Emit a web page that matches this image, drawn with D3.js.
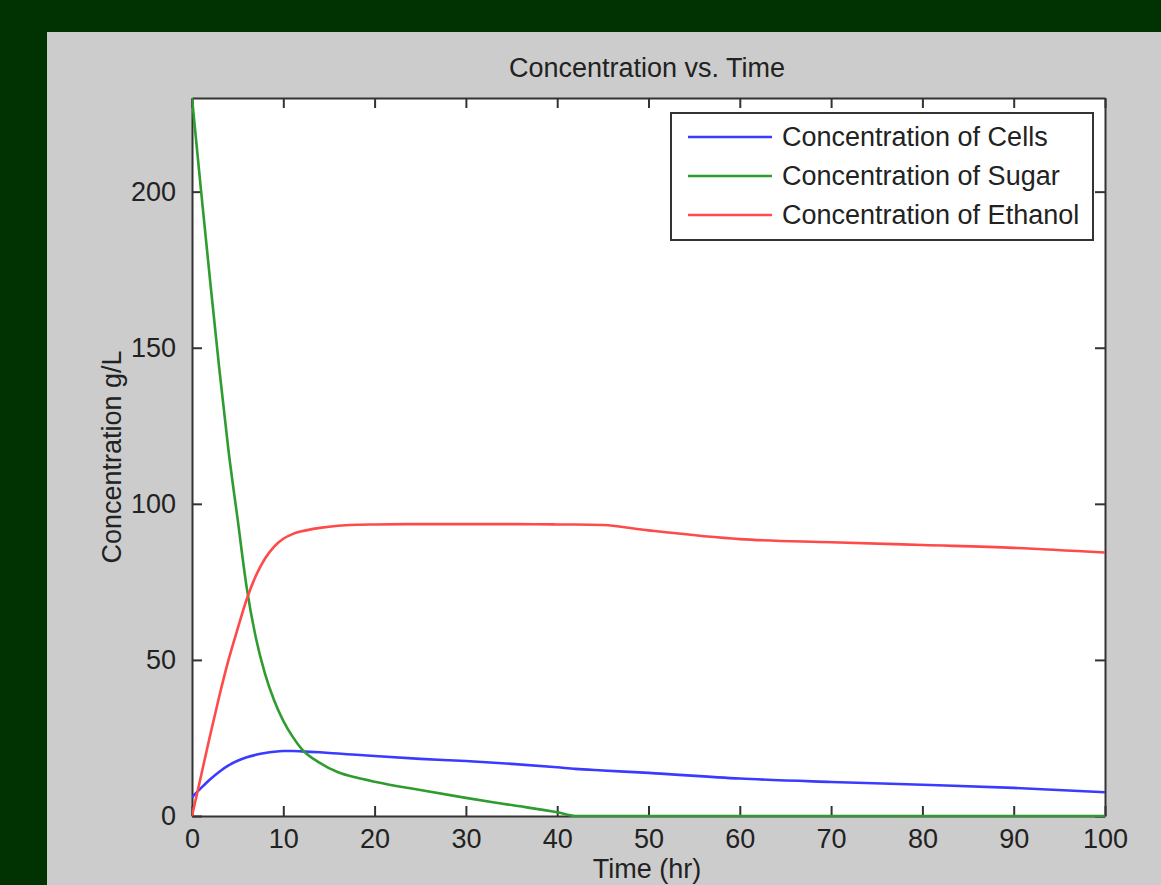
<!DOCTYPE html>
<html>
<head>
<meta charset="utf-8">
<script src="https://cdn.jsdelivr.net/npm/d3@7.9.0/dist/d3.min.js"></script>
<style>
  html, body { margin: 0; padding: 0; background: #013201; }
  svg { display: block; }
  text { font-family: "Liberation Sans", Arial, sans-serif; fill: #222; }
</style>
</head>
<body>
<svg id="chart" width="1161" height="885"></svg>
<script>
// values
const time    = [0, 1, 2, 3, 4, 5, 6, 7, 8, 9, 10, 11, 12, 14, 16, 18, 20, 25, 30, 35, 40, 42, 45, 50, 60, 70, 80, 90, 100];
const cells   = [6, 9, 11.8, 14.2, 16.2, 17.7, 18.8, 19.6, 20.2, 20.6, 20.8, 20.8, 20.7, 20.4, 20, 19.6, 19.2, 18.3, 17.6, 16.7, 15.6, 15.1, 14.6, 13.8, 12, 10.9, 10, 9, 7.6];
const sugar   = [230, 200, 171, 143, 117, 95, 73, 57, 45.5, 37, 30.5, 25.5, 21.5, 17, 14, 12.3, 11, 8.3, 5.8, 3.5, 1.2, 0, 0, 0, 0, 0, 0, 0, 0];
const ethanol = [0, 13, 26, 38.5, 50, 60, 69.5, 77, 82.5, 86.3, 88.8, 90.3, 91.2, 92.3, 93, 93.3, 93.4, 93.5, 93.5, 93.5, 93.4, 93.4, 93.2, 91.5, 88.7, 87.7, 86.8, 85.9, 84.4];

const seriesNames = ["Concentration of Cells", "Concentration of Sugar", "Concentration of Ethanol"];
const seriesColors = ["#3b3bff", "#2f9c2f", "#ff4a4a"];
const xTicks = [0, 10, 20, 30, 40, 50, 60, 70, 80, 90, 100];
const yTicks = [0, 50, 100, 150, 200];

const fontSize = 27;
const svg = d3.select('#chart');

// grey figure panel
svg.append('rect').attr('x', 47).attr('y', 32).attr('width', 1161 - 47).attr('height', 885 - 32).attr('fill', '#cccccc');

const plot = { left: 192, top: 98, right: 1105, bottom: 816 };
const x = d3.scaleLinear().domain([0, 100]).range([plot.left, plot.right]);
const y = d3.scaleLinear().domain([0, 230]).range([plot.bottom, plot.top]);

svg.append('rect')
  .attr('x', plot.left).attr('y', plot.top)
  .attr('width', plot.right - plot.left).attr('height', plot.bottom - plot.top)
  .attr('fill', '#fff');

// ticks point inward on all four sides
const tickLen = 10;
const axisColor = '#333';
const bottomAxis = svg.append('g').attr('transform', `translate(0,${plot.bottom})`)
  .call(d3.axisBottom(x).tickValues(xTicks).tickSize(-tickLen).tickPadding(13).tickSizeOuter(0));
const topAxis = svg.append('g').attr('transform', `translate(0,${plot.top})`)
  .call(d3.axisTop(x).tickValues(xTicks).tickSize(-tickLen).tickFormat('').tickSizeOuter(0));
const leftAxis = svg.append('g').attr('transform', `translate(${plot.left},0)`)
  .call(d3.axisLeft(y).tickValues(yTicks).tickSize(-tickLen).tickPadding(16).tickSizeOuter(0));
const rightAxis = svg.append('g').attr('transform', `translate(${plot.right},0)`)
  .call(d3.axisRight(y).tickValues(yTicks).tickSize(-tickLen).tickFormat('').tickSizeOuter(0));

[bottomAxis, topAxis, leftAxis, rightAxis].forEach(g => {
  g.select('.domain').attr('stroke', axisColor).attr('stroke-width', 2);
  g.selectAll('.tick line').attr('stroke', axisColor).attr('stroke-width', 2);
  g.selectAll('.tick text').attr('font-size', fontSize).attr('font-family', '"Liberation Sans", Arial, sans-serif').attr('fill', '#222');
});
bottomAxis.selectAll('.tick text').attr('dy', '0.71em');

// lines
svg.append('clipPath').attr('id', 'clip').append('rect')
  .attr('x', plot.left).attr('y', plot.top - 2)
  .attr('width', plot.right - plot.left).attr('height', plot.bottom - plot.top + 3);

const series = [cells, sugar, ethanol];
const line = d3.line().x(d => x(d[0])).y(d => y(d[1])).curve(d3.curveMonotoneX);
const lines = svg.append('g').attr('clip-path', 'url(#clip)');
series.forEach((vals, i) => {
  lines.append('path')
    .attr('d', line(time.map((t, j) => [t, vals[j]])))
    .attr('fill', 'none')
    .attr('stroke', seriesColors[i])
    .attr('stroke-width', 2.6);
});

// titles
svg.append('text').attr('x', 647).attr('y', 77).attr('text-anchor', 'middle')
  .attr('font-size', fontSize).text('Concentration vs. Time');
svg.append('text').attr('x', 647).attr('y', 878).attr('text-anchor', 'middle')
  .attr('font-size', fontSize).text('Time (hr)');
svg.append('text').attr('transform', 'translate(121,457) rotate(-90)').attr('text-anchor', 'middle')
  .attr('font-size', fontSize).text('Concentration g/L');

// legend
const legend = svg.append('g');
legend.append('rect').attr('x', 671).attr('y', 113).attr('width', 422).attr('height', 127)
  .attr('fill', '#fff').attr('stroke', axisColor).attr('stroke-width', 2);
seriesNames.forEach((name, i) => {
  const ly = 137 + i * 39;
  legend.append('line').attr('x1', 688).attr('x2', 772).attr('y1', ly).attr('y2', ly)
    .attr('stroke', seriesColors[i]).attr('stroke-width', 2.6);
  legend.append('text').attr('x', 782).attr('y', ly).attr('dy', '0.35em')
    .attr('font-size', fontSize).text(name);
});
</script>
</body>
</html>
